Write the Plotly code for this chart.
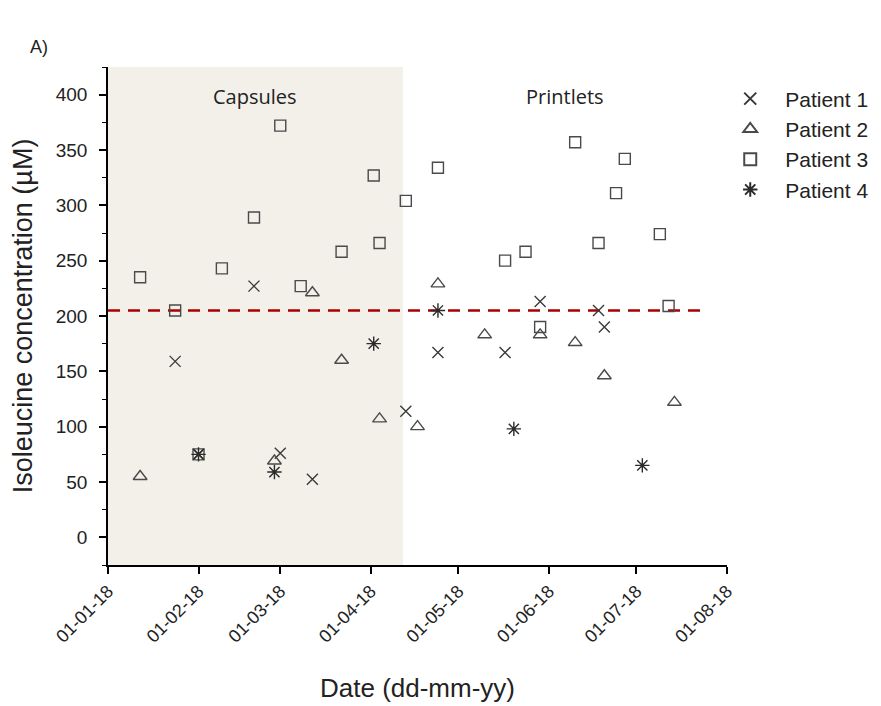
import plotly.graph_objects as go

p1_dates = ["2018-01-24", "2018-02-01", "2018-02-20", "2018-03-01", "2018-03-12", "2018-04-13",
            "2018-04-24", "2018-05-17", "2018-05-29", "2018-06-18", "2018-06-20"]
p1_vals = [159, 75, 227, 76, 52.5, 114, 167, 167, 213, 205, 190]

p2_dates = ["2018-01-12", "2018-02-27", "2018-03-12", "2018-03-22", "2018-04-04", "2018-04-17",
            "2018-04-24", "2018-05-10", "2018-05-29", "2018-06-10", "2018-06-20", "2018-07-14"]
p2_vals = [55, 69, 221, 160, 107, 100, 229, 183, 183, 176, 146, 122]

p3_dates = ["2018-01-12", "2018-01-24", "2018-02-01", "2018-02-09", "2018-02-20", "2018-03-01",
            "2018-03-08", "2018-03-22", "2018-04-02", "2018-04-04", "2018-04-13", "2018-04-24",
            "2018-05-17", "2018-05-24", "2018-05-29", "2018-06-10", "2018-06-18", "2018-06-24",
            "2018-06-27", "2018-07-09", "2018-07-12"]
p3_vals = [235, 205, 75, 243, 289, 372, 227, 258, 327, 266, 304, 334,
           250, 258, 190, 357, 266, 311, 342, 274, 209]

p4_dates = ["2018-02-01", "2018-02-27", "2018-04-02", "2018-04-24", "2018-05-20", "2018-07-03"]
p4_vals = [75, 59, 175, 205, 98, 65]

tick_dates = ["2018-01-01", "2018-02-01", "2018-03-01", "2018-04-01", "2018-05-01",
              "2018-06-01", "2018-07-01", "2018-08-01"]
tick_labels = ["01-01-18", "01-02-18", "01-03-18", "01-04-18", "01-05-18",
               "01-06-18", "01-07-18", "01-08-18"]
y_ticks = [0, 50, 100, 150, 200, 250, 300, 350, 400]

capsule_period = ["2018-01-01", "2018-04-12"]
reference_level = 205
reference_span = ["2018-01-01", "2018-07-24"]

fig = go.Figure()

fig.add_shape(type="rect", xref="x", yref="paper", x0=capsule_period[0], x1=capsule_period[1],
              y0=0, y1=1, fillcolor="#f2f0e9", line_width=0, layer="below")

fig.add_trace(go.Scatter(x=reference_span, y=[reference_level, reference_level], mode="lines",
                         line=dict(color="#a80000", width=2.5, dash="12px,8px"),
                         showlegend=False, hoverinfo="skip"))

series = [
    ("Patient 1", p1_dates, p1_vals, "x-thin-open", 11, "#3a3a3a"),
    ("Patient 2", p2_dates, p2_vals, "triangle-up-open", 12, "#4a4a4a"),
    ("Patient 3", p3_dates, p3_vals, "square-open", 11, "#4a4a4a"),
    ("Patient 4", p4_dates, p4_vals, "asterisk-open", 12, "#2a2a2a"),
]
for name, xs, ys, sym, sz, col in series:
    fig.add_trace(go.Scatter(x=xs, y=ys, mode="markers", name=name,
                             marker=dict(symbol=sym, size=sz, color=col,
                                         line=dict(color=col, width=1.4))))

fig.add_annotation(text="Capsules", x=0.2375, y=0.94, xref="paper", yref="paper",
                   xanchor="center", yanchor="middle", showarrow=False,
                   font=dict(family="Open Sans", size=20, color="#222"))
fig.add_annotation(text="Printlets", x=0.738, y=0.94, xref="paper", yref="paper",
                   xanchor="center", yanchor="middle", showarrow=False,
                   font=dict(family="Open Sans", size=20, color="#222"))
fig.add_annotation(text="A)", x=-0.129, y=1.04, xref="paper", yref="paper",
                   xanchor="left", yanchor="middle", showarrow=False,
                   font=dict(family="Liberation Sans", size=18, color="#222"))

fig.update_layout(
    width=881, height=706,
    margin=dict(l=100, r=162, t=59, b=149),
    plot_bgcolor="white", paper_bgcolor="white",
    font=dict(family="Liberation Sans", size=19, color="#222"),
    legend=dict(x=0.981, y=0.977, xanchor="left", yanchor="top",
                font=dict(size=21, color="#222"), itemsizing="constant", itemwidth=60,
                tracegroupgap=0, bgcolor="rgba(0,0,0,0)"),
    xaxis=dict(type="date", range=["2018-01-01", "2018-08-01"],
               tickvals=tick_dates, ticktext=tick_labels, tickangle=-45,
               ticks="outside", ticklen=7, tickwidth=1.5, tickcolor="black",
               showline=True, linecolor="black", linewidth=1.5, showgrid=False,
               zeroline=False, ticklabelstandoff=0,
               title=dict(text="Date (dd-mm-yy)", font=dict(size=26, color="#222"), standoff=33),
               tickfont=dict(size=18)),
    yaxis=dict(range=[-25, 425], tickvals=y_ticks,
               ticks="outside", ticklen=7, tickwidth=1.5, tickcolor="black",
               minor=dict(dtick=25, tick0=0, ticks="outside", ticklen=4, tickwidth=1.2,
                          tickcolor="black", showgrid=False),
               showline=True, linecolor="black", linewidth=1.5, showgrid=False,
               zeroline=False, ticklabelstandoff=8,
               title=dict(text="Isoleucine concentration (µM)", font=dict(size=27, color="#222"),
                          standoff=16),
               tickfont=dict(size=19)),
)

fig.write_html("out.html")
